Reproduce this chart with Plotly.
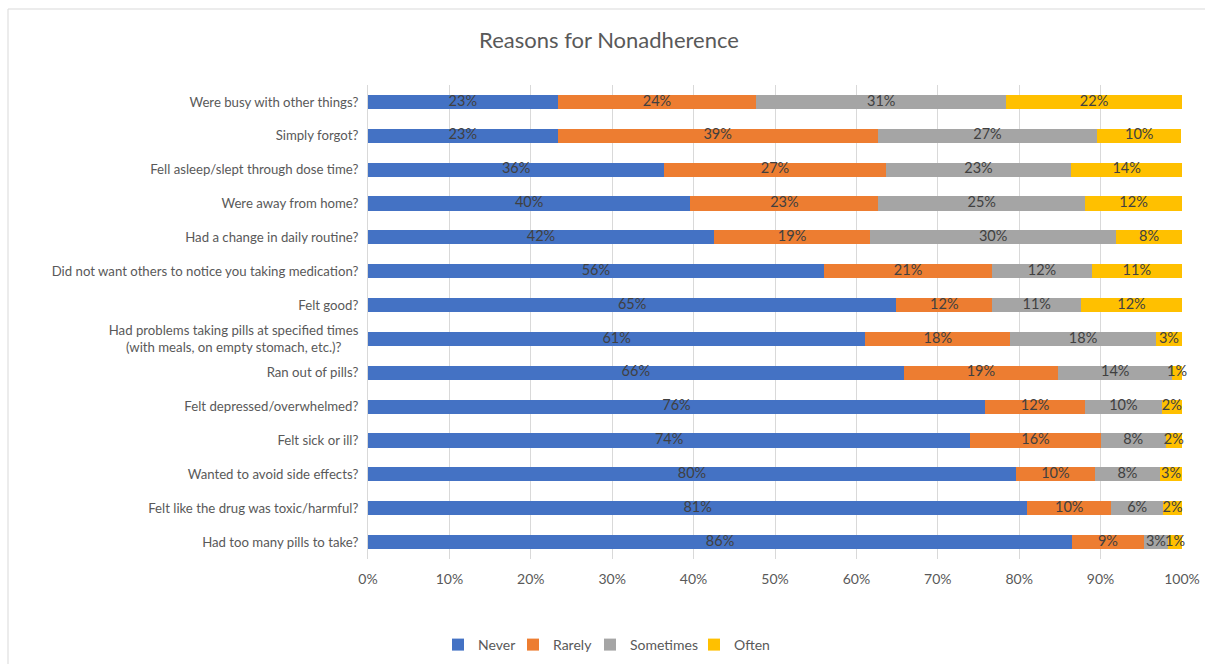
import plotly.graph_objects as go

categories = [
    "Were busy with other things?",
    "Simply forgot?",
    "Fell asleep/slept through dose time?",
    "Were away from home?",
    "Had a change in daily routine?",
    "Did not want others to notice you taking medication?",
    "Felt good?",
    "Had problems taking pills at specified times<br>(with meals, on empty stomach, etc.)?\u00a0\u00a0\u00a0\u00a0\u00a0",
    "Ran out of pills?",
    "Felt depressed/overwhelmed?",
    "Felt sick or ill?",
    "Wanted to avoid side effects?",
    "Felt like the drug was toxic/harmful?",
    "Had too many pills to take?",
]

never = [23.3, 23.3, 36.4, 39.6, 42.5, 56.0, 64.9, 61.1, 65.8, 75.8, 74.0, 79.6, 81.0, 86.5]
rarely = [24.4, 39.3, 27.2, 23.1, 19.2, 20.7, 11.8, 17.8, 19.0, 12.3, 16.0, 9.7, 10.3, 8.8]
sometimes = [30.7, 27.0, 22.8, 25.4, 30.2, 12.2, 10.9, 17.9, 14.0, 9.4, 8.0, 8.0, 6.4, 3.0]
often = [21.6, 10.3, 13.6, 11.9, 8.1, 11.1, 12.4, 3.2, 1.2, 2.5, 2.0, 2.7, 2.3, 1.7]

never_labels = ["23%", "23%", "36%", "40%", "42%", "56%", "65%", "61%", "66%", "76%", "74%", "80%", "81%", "86%"]
rarely_labels = ["24%", "39%", "27%", "23%", "19%", "21%", "12%", "18%", "19%", "12%", "16%", "10%", "10%", "9%"]
sometimes_labels = ["31%", "27%", "23%", "25%", "30%", "12%", "11%", "18%", "14%", "10%", "8%", "8%", "6%", "3%"]
often_labels = ["22%", "10%", "14%", "12%", "8%", "11%", "12%", "3%", "1%", "2%", "2%", "3%", "2%", "1%"]

tick_values = [0, 10, 20, 30, 40, 50, 60, 70, 80, 90, 100]
tick_labels = ["0%", "10%", "20%", "30%", "40%", "50%", "60%", "70%", "80%", "90%", "100%"]

series = [
    ("Never", never, never_labels, "#4472C4"),
    ("Rarely", rarely, rarely_labels, "#ED7D31"),
    ("Sometimes", sometimes, sometimes_labels, "#A5A5A5"),
    ("Often", often, often_labels, "#FFC000"),
]

W, H = 1205, 664
L, R, T, B = 368, 23, 85, 105
pw = W - L - R
ph = H - T - B

FONT = "Lato"
legend_ids = ["legend", "legend2", "legend3", "legend4"]
legend_text_left = [480, 555, 632, 736]  # px where each legend label starts

fig = go.Figure()
for (name, vals, labels, color), lid in zip(series, legend_ids):
    fig.add_trace(go.Bar(
        name=name,
        y=categories,
        x=vals,
        orientation="h",
        marker=dict(color=color, line=dict(width=0)),
        hoverinfo="skip",
        legend=lid,
    ))

# data labels at the centre of each stacked segment
base = [0.0] * len(categories)
for name, vals, labels, color in series:
    centers = [b + v / 2 for b, v in zip(base, vals)]
    fig.add_trace(go.Scatter(
        x=centers, y=categories, mode="text", text=labels,
        textposition="middle center",
        textfont=dict(family=FONT, size=14.5, color="#404040"),
        showlegend=False, hoverinfo="skip", cliponaxis=False,
    ))
    base = [b + v for b, v in zip(base, vals)]

legend_common = dict(
    orientation="h", xanchor="left", yanchor="middle",
    y=-(645 - (H - B)) / ph,
    font=dict(family=FONT, size=14, color="#595959"),
    itemwidth=30, bgcolor="rgba(0,0,0,0)", borderwidth=0,
)
legend_layouts = {}
for lid, tx in zip(legend_ids, legend_text_left):
    legend_layouts[lid] = dict(legend_common, x=(tx - 42 - L) / pw)

fig.update_layout(
    width=W, height=H,
    barmode="stack",
    bargap=0.586,
    margin=dict(l=L, r=R, t=T, b=B, autoexpand=False),
    paper_bgcolor="white",
    plot_bgcolor="white",
    font=dict(family=FONT, color="#595959"),
    title=dict(
        text="Reasons for Nonadherence",
        font=dict(family=FONT, size=22, color="#595959"),
        x=609 / W, xref="container", xanchor="center",
        y=1 - 40 / H, yref="container", yanchor="middle",
    ),
    xaxis=dict(
        range=[0, 100],
        tickvals=tick_values,
        ticktext=tick_labels,
        showgrid=True, gridcolor="#D9D9D9", gridwidth=1,
        zeroline=False, showline=False,
        tickfont=dict(family=FONT, size=14, color="#595959"),
        ticklabelstandoff=10,
        fixedrange=True,
    ),
    yaxis=dict(
        range=[len(categories) - 0.5, -0.5],
        showgrid=False, zeroline=False,
        showline=True, linecolor="#D9D9D9", linewidth=1,
        tickfont=dict(family=FONT, size=13.2, color="#595959"),
        ticklabelstandoff=6,
        fixedrange=True,
    ),
    showlegend=True,
    shapes=[dict(
        type="rect", xref="paper", yref="paper",
        x0=(8 - L) / pw, x1=(1215 - L) / pw,
        y0=-(680 - (H - B)) / ph, y1=1 + (T - 9) / ph,
        line=dict(color="#D9D9D9", width=1),
        fillcolor="rgba(0,0,0,0)", layer="below",
    )],
    **legend_layouts,
)

fig.write_html("out.html")
